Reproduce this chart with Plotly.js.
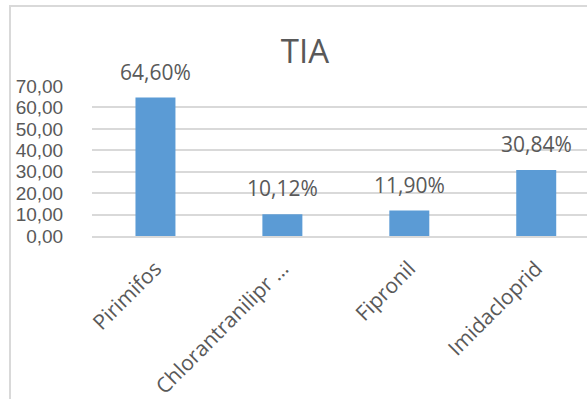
<!DOCTYPE html>
<html>
<head>
<meta charset="utf-8">
<script src="https://cdn.plot.ly/plotly-3.0.1.min.js"></script>
<style>
html,body{margin:0;padding:0;background:#fff;overflow:hidden;}
#wrap{position:relative;width:587px;height:399px;}
#frame{position:absolute;left:9px;top:5px;width:578px;height:394px;border-left:2px solid #D9D9D9;border-top:2px solid #D9D9D9;box-sizing:border-box;pointer-events:none;}
#chart{position:absolute;left:0;top:0;width:587px;height:399px;}
</style>
</head>
<body>
<div id="wrap"><div id="chart"></div><div id="frame"></div></div>
<script>
const categories = ["Pirimifos", "Chlorantranilipr …", "Fipronil", "Imidacloprid"];
const values = [64.60, 10.12, 11.90, 30.84];
const yTicks = [0, 10, 20, 30, 40, 50, 60, 70];
const chartTitle = "TIA";

const labels = values.map(v => v.toFixed(2).replace('.', ',') + '%');
const txt = '#595959';
const font = "'Open Sans', 'Noto Sans', sans-serif";

const trace = {
  type: 'bar',
  x: categories,
  y: values,
  width: 0.315,
  marker: {color: '#5B9BD5'},
  hoverinfo: 'skip'
};

const annotations = categories.map((c, i) => ({
  x: c, y: values[i], xref: 'x', yref: 'y',
  text: labels[i], showarrow: false,
  yanchor: 'middle', yshift: 26,
  font: {family: font, size: 21, color: txt}
}));

const layout = {
  width: 587, height: 399,
  margin: {l: 92, r: 0, t: 86, b: 163, pad: 0},
  paper_bgcolor: 'rgba(0,0,0,0)', plot_bgcolor: '#fff',
  separators: ', ',
  showlegend: false,
  title: {text: chartTitle, x: 305/587, xref: 'container', xanchor: 'center',
          y: 1 - 51/399, yref: 'container', yanchor: 'middle',
          font: {family: font, size: 33, color: txt}},
  xaxis: {
    type: 'category', range: [-0.5, 3.4],
    tickangle: -45, showgrid: false, zeroline: false,
    showline: true, linecolor: '#D9D9D9', linewidth: 2,
    ticks: 'outside', ticklen: 10, tickcolor: 'rgba(0,0,0,0)',
    tickfont: {family: font, size: 21, color: txt},
    fixedrange: true
  },
  yaxis: {
    range: [0, 70], tickvals: yTicks, tickformat: '.2f',
    showgrid: true, gridcolor: '#D9D9D9', gridwidth: 2,
    zeroline: false, showline: false,
    ticks: 'outside', ticklen: 24, tickcolor: 'rgba(0,0,0,0)',
    tickfont: {family: "'Liberation Sans', Arial, sans-serif", size: 19, color: txt},
    fixedrange: true
  },
  annotations: annotations
};

Plotly.newPlot('chart', [trace], layout, {displayModeBar: false, staticPlot: true});
</script>
</body>
</html>
